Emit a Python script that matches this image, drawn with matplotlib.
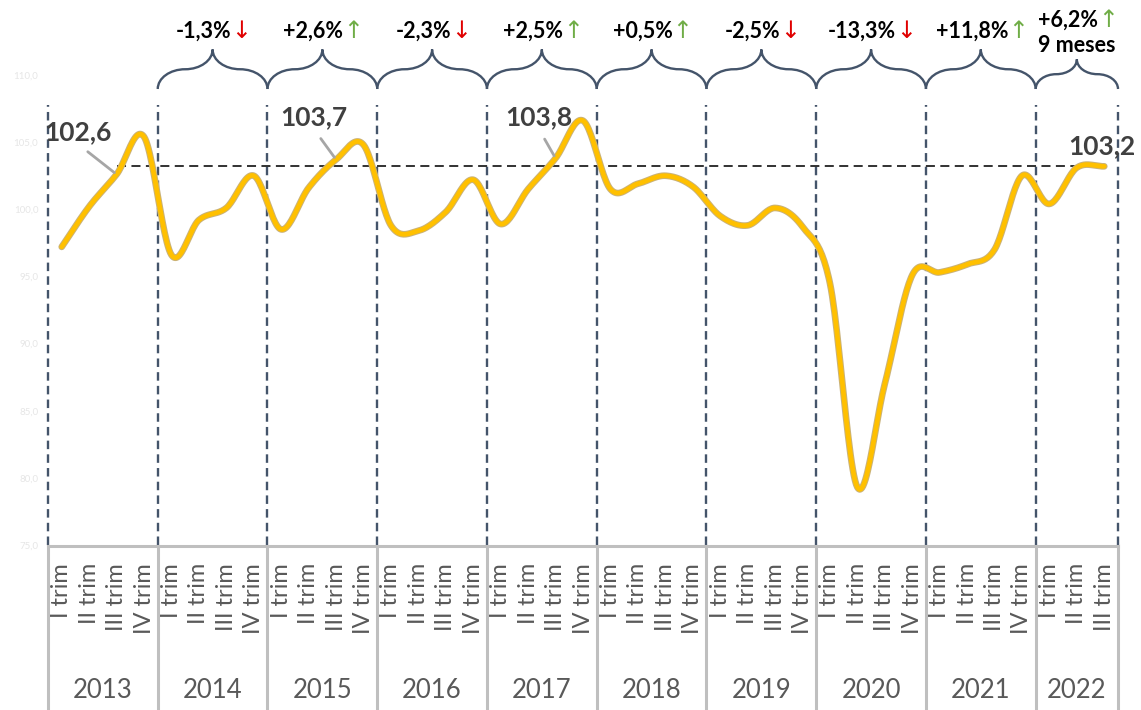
import numpy as np
import matplotlib
matplotlib.use('Agg')
import matplotlib.pyplot as plt
import matplotlib.transforms as mtransforms
import matplotlib.patheffects as pe
from matplotlib.path import Path
from matplotlib.patches import PathPatch
from matplotlib.lines import Line2D

plt.rcParams['font.family'] = ['Lato', 'DejaVu Sans']

# data
years = ['2013', '2014', '2015', '2016', '2017', '2018', '2019', '2020', '2021', '2022']
quarters_per_year = [4, 4, 4, 4, 4, 4, 4, 4, 4, 3]
quarter_names = ['I trim', 'II trim', 'III trim', 'IV trim']
values = [97.2, 100.2, 102.6, 105.4,
          96.6, 99.2, 100.1, 102.5,
          98.5, 101.6, 103.7, 104.8,
          98.8, 98.4, 99.8, 102.2,
          98.9, 101.5, 103.8, 106.6,
          101.5, 101.9, 102.5, 101.7,
          99.5, 98.8, 100.1, 98.7,
          94.5, 79.3, 87.0, 95.1,
          95.3, 95.9, 97.0, 102.5,
          100.4, 103.1, 103.2]
changes = ['-1,3%', '+2,6%', '-2,3%', '+2,5%', '+0,5%', '-2,5%', '-13,3%', '+11,8%', '+6,2%']
change_up = [False, True, False, True, True, False, False, True, True]
callout_idx = [2, 10, 18, 38]
callout_txt = ['102,6', '103,7', '103,8', '103,2']
yticks = [75, 80, 85, 90, 95, 100, 105, 110]

W, H = 1141, 710
fig = plt.figure(figsize=(W / 100, H / 100), dpi=100)
ax = fig.add_axes([48 / W, 165 / H, 1070 / W, 470 / H])
n = len(values)
ax.set_xlim(-0.5, n - 0.5)
ax.set_ylim(75, 110)
for s in ax.spines.values():
    s.set_visible(False)
ax.set_xticks([])
ax.set_yticks(yticks)
ax.set_yticklabels([f'{v:.1f}'.replace('.', ',') for v in yticks])
ax.tick_params(axis='y', length=0, pad=7, labelsize=7, labelcolor='#e6e6e6')

ident = mtransforms.IdentityTransform()
xdisp = mtransforms.blended_transform_factory(ax.transData, ident)


def top(y):
    # pixel measured from the top of the picture -> display y
    return H - y


# catmull-rom smoothing like Excel's smoothed line
def smooth(x, y, steps=24):
    px = np.concatenate([[2 * x[0] - x[1]], x, [2 * x[-1] - x[-2]]])
    py = np.concatenate([[2 * y[0] - y[1]], y, [2 * y[-1] - y[-2]]])
    t = np.linspace(0, 1, steps, endpoint=False)[:, None]
    xs, ys = [], []
    for i in range(1, len(px) - 2):
        for p, out in ((px, xs), (py, ys)):
            p0, p1, p2, p3 = p[i - 1], p[i], p[i + 1], p[i + 2]
            c = 0.5 * ((2 * p1) + (-p0 + p2) * t + (2 * p0 - 5 * p1 + 4 * p2 - p3) * t ** 2
                       + (-p0 + 3 * p1 - 3 * p2 + p3) * t ** 3)
            out.extend(c.ravel())
    xs.append(x[-1])
    ys.append(y[-1])
    return np.array(xs), np.array(ys)


idx = np.arange(n, dtype=float)
sx, sy = smooth(idx, np.array(values))

# year boundaries
bounds = np.concatenate([[0], np.cumsum(quarters_per_year)]) - 0.5
for b in bounds:
    ax.axvline(b, ymin=0, ymax=440 / 470, color='#44546a', lw=1.7,
               ls=(0, (3.6, 2.2)), zorder=1, clip_on=False)

ax.hlines(values[-1], callout_idx[0], n - 0.9, color='#222222', lw=1.3,
          ls=(0, (5, 3)), zorder=2)

ax.plot(sx, sy, color='#ffc000', lw=3.4, zorder=4, solid_capstyle='round',
        path_effects=[pe.Stroke(linewidth=4.8, foreground='#c9b27a'), pe.Normal()])

# callouts
offsets = [(-28, 22), (-16, 22), (-12, 21), (-2, 6)]
for i, txt, off in zip(callout_idx, callout_txt, offsets):
    arrow = None
    if i != n - 1:
        arrow = dict(arrowstyle='-', color='#a6a6a6', lw=2, shrinkA=6, shrinkB=2,
                     relpos=(0.5, 0))
    ax.annotate(txt, xy=(i, values[i]), xytext=off, textcoords='offset points',
                ha='center', va='bottom', fontsize=19, fontweight='bold',
                color='#404040', arrowprops=arrow, zorder=5, annotation_clip=False)

# bottom category area
ax.add_line(Line2D([bounds[0], bounds[-1]], [top(546), top(546)], transform=xdisp,
                   color='#bfbfbf', lw=2.2, clip_on=False))
for b in bounds:
    ax.add_line(Line2D([b, b], [top(546), top(710)], transform=xdisp,
                       color='#bfbfbf', lw=2.2, clip_on=False))
k = 0
for y, q in zip(years, quarters_per_year):
    for j in range(q):
        ax.text(k + j, top(563), quarter_names[j], transform=xdisp, rotation=90,
                ha='center', va='top', fontsize=17, color='#595959')
    ax.text(k + (q - 1) / 2, top(690), y, transform=xdisp, ha='center', va='center',
            fontsize=18.5, color='#595959')
    k += q


# braces with yearly changes
def brace(x0, x1, ybot):
    w = x1 - x0
    rx, ry, c = w / 4, 0.18 * w, 0.5523
    xc, yt = (x0 + x1) / 2, ybot + 2 * ry
    verts = [(x0, ybot), (x0, ybot + c * ry), (x0 + rx - c * rx, ybot + ry), (x0 + rx, ybot + ry),
             (x0 + rx + c * rx, ybot + ry), (xc, yt - c * ry), (xc, yt),
             (xc, yt - c * ry), (x1 - rx - c * rx, ybot + ry), (x1 - rx, ybot + ry),
             (x1 - rx + c * rx, ybot + ry), (x1, ybot + c * ry), (x1, ybot)]
    codes = [Path.MOVETO] + [Path.CURVE4] * 12
    fig.add_artist(PathPatch(Path(verts, codes), transform=ident, fill=False,
                             edgecolor='#44546a', lw=1.7))
    return xc, yt


for i, (txt, up) in enumerate(zip(changes, change_up)):
    x0 = ax.transData.transform((bounds[i + 1], 0))[0]
    x1 = ax.transData.transform((bounds[i + 2], 0))[0]
    xc, yt = brace(x0, x1, top(89))
    ty = top(20) if i == len(changes) - 1 else top(31)
    t = ax.text(xc - 9, ty, txt, transform=ident, ha='center', va='center',
                fontsize=15.5, fontweight='bold', color='black')
    ax.annotate('\u2191' if up else '\u2193', xy=(1, 0.5), xycoords=t,
                ha='left', va='center', fontsize=17,
                color='#70ad47' if up else '#e00000',
                family='DejaVu Sans', annotation_clip=False)
    if i == len(changes) - 1:
        ax.text(xc, top(46), '9 meses', transform=ident, ha='center', va='center',
                fontsize=15.5, fontweight='bold', color='black')

fig.savefig('out.png', dpi=100)
